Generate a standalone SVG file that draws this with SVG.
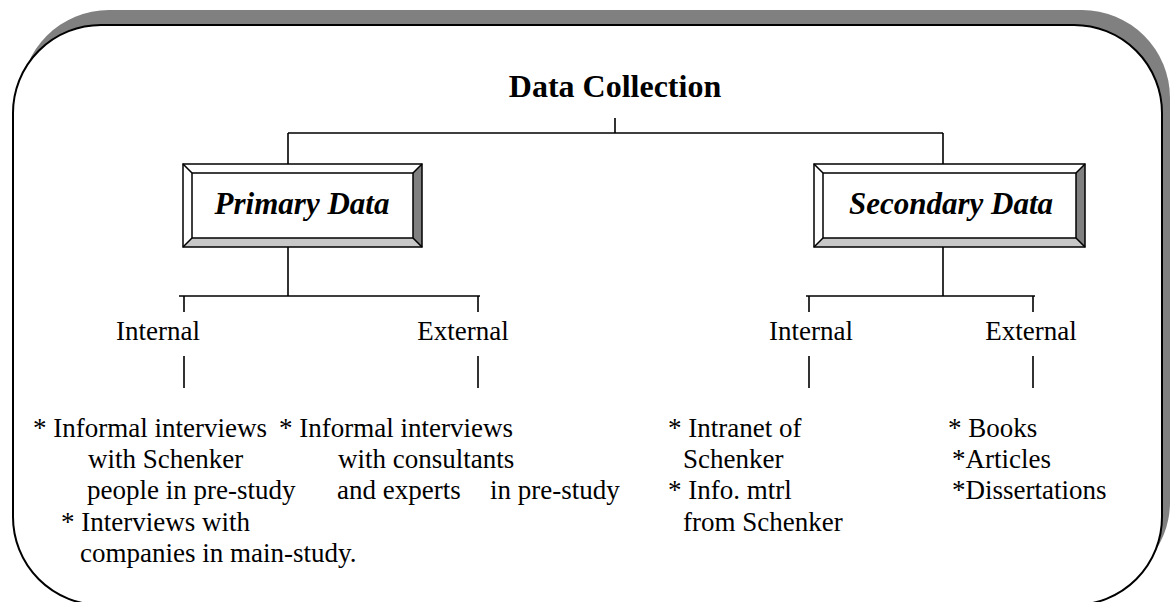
<svg xmlns="http://www.w3.org/2000/svg" width="1170" height="602" viewBox="0 0 1170 602">
  <style>
    .frame { fill: #ffffff; stroke: #000000; stroke-width: 2; }
    .shadow { fill: #808080; stroke: none; }
    .conn { stroke: #000000; stroke-width: 1.6; fill: none; }
    .edge { stroke: #000000; stroke-width: 1.5; }
    .title { font-family: "Liberation Serif", "Times New Roman", serif; font-weight: bold; font-size: 32px; fill: #000; }
    .boxlabel { font-family: "Liberation Serif", "Times New Roman", serif; font-weight: bold; font-style: italic; font-size: 31px; fill: #000; }
    .body { font-family: "Liberation Serif", "Times New Roman", serif; font-size: 27px; fill: #000; }
  </style>

  <!-- outer rounded panel with offset shadow -->
  <g id="panel">
    <rect class="shadow" x="21" y="10" width="1149" height="580" rx="88" ry="88"/>
    <rect class="frame" x="13" y="25" width="1149" height="580" rx="88" ry="88"/>
  </g>

  <g id="title">
    <text class="title" x="615" y="97" text-anchor="middle">Data Collection</text>
  </g>

  <!-- connectors -->
  <g id="connectors" class="conn">
    <path d="M615 118 V133 M288 133 H943 M288 133 V164 M943 133 V164"/>
    <path d="M288 247 V296 M179 296 H480 M184 296 V312 M478 296 V312"/>
    <path d="M943 247 V296 M806 296 H1035 M809 296 V312 M1033 296 V312"/>
    <path d="M184 356 V388 M478 356 V388 M809 356 V388 M1033 356 V388"/>
  </g>

  <!-- bevelled box: Primary Data -->
  <g id="primary-data">
    <rect x="183" y="164" width="239" height="83" fill="#ffffff"/>
    <polygon points="413,173 422,164 422,247 413,238" fill="#808080"/>
    <polygon points="192,238 413,238 422,247 183,247" fill="#c8c8c8"/>
    <rect x="183" y="164" width="239" height="83" fill="none" class="edge"/>
    <rect x="192" y="173" width="221" height="65" fill="none" class="edge"/>
    <path class="edge" d="M183 164 L192 173 M422 164 L413 173 M183 247 L192 238 M422 247 L413 238"/>
    <text class="boxlabel" x="302" y="214" text-anchor="middle">Primary Data</text>
  </g>

  <!-- bevelled box: Secondary Data -->
  <g id="secondary-data">
    <rect x="814" y="164" width="271" height="83" fill="#ffffff"/>
    <polygon points="1076,173 1085,164 1085,247 1076,238" fill="#808080"/>
    <polygon points="823,238 1076,238 1085,247 814,247" fill="#c8c8c8"/>
    <rect x="814" y="164" width="271" height="83" fill="none" class="edge"/>
    <rect x="823" y="173" width="253" height="65" fill="none" class="edge"/>
    <path class="edge" d="M814 164 L823 173 M1085 164 L1076 173 M814 247 L823 238 M1085 247 L1076 238"/>
    <text class="boxlabel" x="951" y="214" text-anchor="middle">Secondary Data</text>
  </g>

  <!-- category labels -->
  <g id="primary-internal">
    <text class="body" x="158" y="340" text-anchor="middle">Internal</text>
  </g>
  <g id="primary-external">
    <text class="body" x="463" y="340" text-anchor="middle">External</text>
  </g>
  <g id="secondary-internal">
    <text class="body" x="811" y="340" text-anchor="middle">Internal</text>
  </g>
  <g id="secondary-external">
    <text class="body" x="1031" y="340" text-anchor="middle">External</text>
  </g>

  <!-- source lists -->
  <g id="primary-internal-list" class="body">
    <text x="33" y="437">* Informal interviews</text>
    <text x="88" y="468">with Schenker</text>
    <text x="87" y="499">people in pre-study</text>
    <text x="61" y="531">* Interviews with</text>
    <text x="80" y="562">companies in main-study.</text>
  </g>
  <g id="primary-external-list" class="body">
    <text x="279" y="437">* Informal interviews</text>
    <text x="338" y="468">with consultants</text>
    <text x="337" y="499">and experts</text>
    <text x="490" y="499">in pre-study</text>
  </g>
  <g id="secondary-internal-list" class="body">
    <text x="668" y="437">* Intranet of</text>
    <text x="683" y="468">Schenker</text>
    <text x="668" y="499">* Info. mtrl</text>
    <text x="683" y="531">from Schenker</text>
  </g>
  <g id="secondary-external-list" class="body">
    <text x="948" y="437">* Books</text>
    <text x="952" y="468">*Articles</text>
    <text x="952" y="499">*Dissertations</text>
  </g>
</svg>
